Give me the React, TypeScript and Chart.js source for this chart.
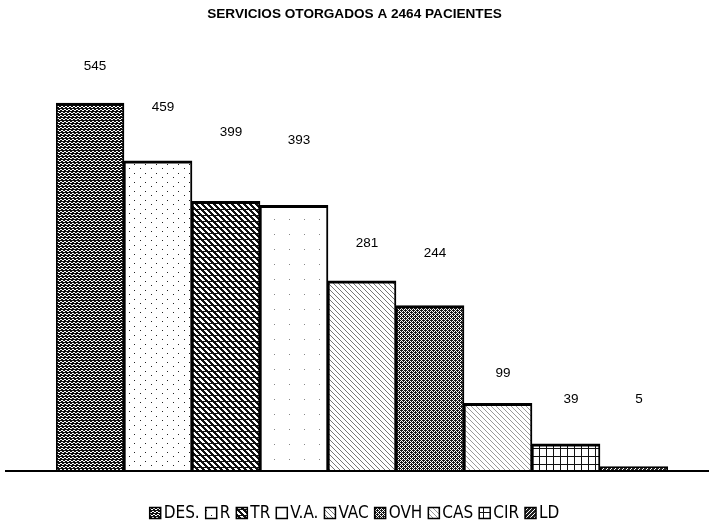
import React, { useEffect, useRef } from "react";
import { Chart, registerables } from "chart.js";

Chart.register(...registerables);

const titleText = "SERVICIOS OTORGADOS A 2464 PACIENTES";
const categories = ["DES.", "R", "TR", "V.A.", "VAC", "OVH", "CAS", "CIR", "LD"];
const values = [545, 459, 399, 393, 281, 244, 99, 39, 5];
// how far above each bar its number sits, in value units
const labelLift = [55, 79, 102, 96, 56, 78, 45, 66, 100];

function makePattern(w: number, h: number, draw: (g: CanvasRenderingContext2D) => void) {
  const c = document.createElement("canvas");
  c.width = w;
  c.height = h;
  const g = c.getContext("2d")!;
  draw(g);
  return g.createPattern(c, "repeat")!;
}

function px(g: CanvasRenderingContext2D, pts: number[][]) {
  pts.forEach(([x, y]) => g.fillRect(x, y, 1, 1));
}

function buildPatterns() {
  const des = makePattern(8, 6, (g) => {
    g.fillStyle = "#111";
    g.fillRect(0, 0, 8, 6);
    g.fillStyle = "#fff";
    px(g, [[0, 1], [1, 1], [2, 2], [3, 2], [4, 1], [5, 1], [6, 2], [7, 2], [1, 4], [2, 4], [3, 5], [4, 5], [5, 4], [6, 4], [7, 5], [0, 5]]);
  });
  const r = makePattern(11, 9, (g) => {
    g.fillStyle = "#fff";
    g.fillRect(0, 0, 11, 9);
    g.fillStyle = "#222";
    px(g, [[2, 2], [8, 6]]);
  });
  const tr = makePattern(6, 6, (g) => {
    g.fillStyle = "#111";
    g.fillRect(0, 0, 6, 6);
    g.fillStyle = "#fff";
    for (let y = 0; y < 6; y++)
      for (let x = 0; x < 6; x++) if ((((x - y) % 6) + 6) % 6 < 3 && y % 6 !== 5) g.fillRect(x, y, 1, 1);
  });
  const va = makePattern(15, 15, (g) => {
    g.fillStyle = "#fff";
    g.fillRect(0, 0, 15, 15);
    g.fillStyle = "#888";
    px(g, [[4, 9]]);
  });
  const vac = makePattern(5, 5, (g) => {
    g.fillStyle = "#fff";
    g.fillRect(0, 0, 5, 5);
    g.fillStyle = "#777";
    for (let i = 0; i < 5; i++) g.fillRect(i, i, 1, 1);
  });
  const ovh = makePattern(4, 4, (g) => {
    g.fillStyle = "#fff";
    g.fillRect(0, 0, 4, 4);
    g.fillStyle = "#1a1a1a";
    for (let y = 0; y < 4; y++) for (let x = 0; x < 4; x++) if ((x + y) % 2 === 0) g.fillRect(x, y, 1, 1);
    px(g, [[1, 2], [3, 0]]);
  });
  const cas = makePattern(5, 5, (g) => {
    g.fillStyle = "#fff";
    g.fillRect(0, 0, 5, 5);
    g.fillStyle = "#999";
    for (let i = 0; i < 5; i++) g.fillRect(i, i, 1, 1);
  });
  const cir = makePattern(7, 8, (g) => {
    g.fillStyle = "#fff";
    g.fillRect(0, 0, 7, 8);
    g.fillStyle = "#111";
    g.fillRect(0, 0, 7, 1);
    g.fillRect(0, 0, 1, 8);
  });
  const ld = makePattern(4, 4, (g) => {
    g.fillStyle = "#222";
    g.fillRect(0, 0, 4, 4);
    g.fillStyle = "#fff";
    for (let i = 0; i < 4; i++) g.fillRect(3 - i, i, 1, 1);
  });
  return [des, r, tr, va, vac, ovh, cas, cir, ld];
}

export default function App() {
  const ref = useRef<HTMLCanvasElement>(null);

  useEffect(() => {
    const canvas = ref.current!;
    const patterns = buildPatterns();

    const decor = {
      id: "decor",
      afterDatasetsDraw(chart: any) {
        const { ctx } = chart;
        const y = chart.scales.y;
        const meta = chart.getDatasetMeta(0);
        ctx.save();
        // baseline
        const y0 = y.getPixelForValue(0);
        ctx.strokeStyle = "#000";
        ctx.lineWidth = 2;
        ctx.beginPath();
        ctx.moveTo(5, y0 + 1);
        ctx.lineTo(709, y0 + 1);
        ctx.stroke();

        // value labels
        ctx.fillStyle = "#000";
        ctx.font = "13.5px 'Liberation Sans', Arial, sans-serif";
        ctx.textAlign = "center";
        ctx.textBaseline = "middle";
        meta.data.forEach((el: any, i: number) => {
          ctx.fillText(String(values[i]), el.x + 5, y.getPixelForValue(values[i] + labelLift[i]));
        });

        // title
        ctx.font = "bold 13.6px 'Liberation Sans', Arial, sans-serif";
        ctx.fillText(titleText, 354.5, 14);

        // legend
        ctx.font = "17px 'Liberation Sans Narrow', 'DejaVu Sans Condensed', Arial, sans-serif";
        ctx.textAlign = "left";
        const box = 11;
        const gap = 3;
        const space = 6;
        const widths = categories.map((c) => ctx.measureText(c).width);
        const total = widths.reduce((a, w) => a + box + gap + w, 0) + space * (categories.length - 1);
        let x = 354.5 - total / 2;
        const ly = 513;
        categories.forEach((c, i) => {
          ctx.fillStyle = patterns[i];
          ctx.fillRect(x, ly - box / 2, box, box);
          ctx.strokeStyle = "#000";
          ctx.lineWidth = 1.5;
          ctx.strokeRect(x, ly - box / 2, box, box);
          ctx.fillStyle = "#000";
          ctx.fillText(c, x + box + gap, ly + 1);
          x += box + gap + widths[i] + space;
        });
        ctx.restore();
      },
    };

    const chart = new Chart(canvas, {
      type: "bar",
      data: {
        labels: categories,
        datasets: [
          {
            data: values,
            backgroundColor: patterns as any,
            borderColor: "#000",
            borderWidth: { top: 3, left: 2, right: 2, bottom: 0 } as any,
            borderSkipped: "start",
            categoryPercentage: 1,
            barPercentage: 1,
          },
        ],
      },
      options: {
        responsive: false,
        animation: false,
        layout: { padding: { left: 56, right: 41, top: 39, bottom: 60 } },
        scales: {
          x: { display: false },
          y: { display: false, min: 0, max: 640 },
        },
        plugins: {
          legend: { display: false },
          title: { display: false },
          tooltip: { enabled: false },
        },
      },
      plugins: [decor],
    });
    return () => chart.destroy();
  }, []);

  return (
    <div style={{ position: "absolute", left: 0, top: 0, width: 709, height: 530, background: "#fff" }}>
      <canvas ref={ref} width={709} height={530} />
    </div>
  );
}
